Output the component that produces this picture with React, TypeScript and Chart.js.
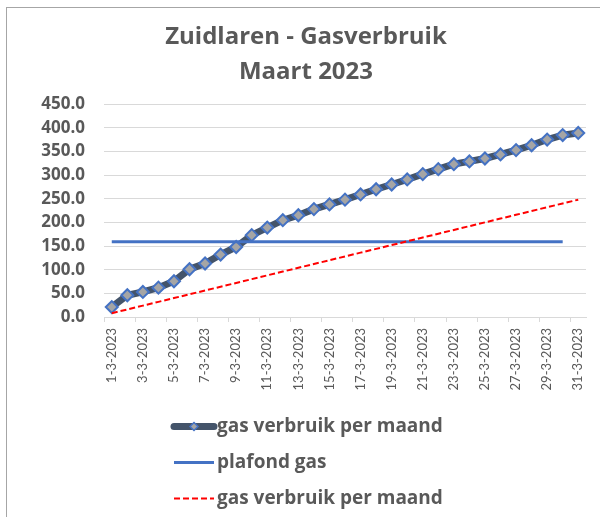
import React, { useEffect, useRef } from "react";
import { Chart, registerables } from "chart.js";

Chart.register(...registerables);

const TITLE_LINES = ["Zuidlaren - Gasverbruik", "Maart 2023"];

const dates = [
  "1-3-2023", "2-3-2023", "3-3-2023", "4-3-2023", "5-3-2023", "6-3-2023", "7-3-2023", "8-3-2023",
  "9-3-2023", "10-3-2023", "11-3-2023", "12-3-2023", "13-3-2023", "14-3-2023", "15-3-2023", "16-3-2023",
  "17-3-2023", "18-3-2023", "19-3-2023", "20-3-2023", "21-3-2023", "22-3-2023", "23-3-2023", "24-3-2023",
  "25-3-2023", "26-3-2023", "27-3-2023", "28-3-2023", "29-3-2023", "30-3-2023", "31-3-2023",
];

const gasVerbruik = [
  21, 46, 53, 62, 75.5, 101, 113, 132, 148, 173, 189, 204.6, 215, 228, 238, 248,
  259, 270, 280, 290.7, 302, 312.5, 323, 328.8, 335, 343.6, 352.7, 363, 375, 384.5, 389,
];

const plafondGas = [
  159, 159, 159, 159, 159, 159, 159, 159, 159, 159, 159, 159, 159, 159, 159, 159,
  159, 159, 159, 159, 159, 159, 159, 159, 159, 159, 159, 159, 159, 159, null,
];

const gasVerbruikLijn = [
  8, 16, 24, 32, 40, 48, 56, 64, 72, 80, 88, 96, 104, 112, 120, 128,
  136, 144, 152, 160, 168, 176, 184, 192, 200, 208, 216, 224, 232, 240, 248,
];

const seriesLabels = ["gas verbruik per maand", "plafond gas", "gas verbruik per maand"];

const Y_MIN = 0;
const Y_MAX = 450;
const Y_STEP = 50;

const GRAY_TEXT = "#595959";
const FONT_BOLD = "'Open Sans'";
const FONT_TICK = "Lato";

const borderPlugin = {
  id: "outerBorder",
  beforeDraw(chart: any) {
    const ctx = chart.ctx;
    ctx.save();
    ctx.fillStyle = "#ffffff";
    ctx.fillRect(0, 0, chart.width, chart.height);
    ctx.strokeStyle = "#A6A6A6";
    ctx.lineWidth = 1;
    ctx.strokeRect(6.5, 7.5, chart.width + 20, chart.height + 20);
    ctx.restore();
  },
};

const legendPlugin = {
  id: "verticalLegend",
  afterDraw(chart: any) {
    const ctx = chart.ctx;
    const baselines = [432, 468, 504];
    const x0 = 174;
    const x1 = 214;
    const tx = 217;
    ctx.save();
    ctx.font = `bold 19px ${FONT_BOLD}`;
    ctx.fillStyle = GRAY_TEXT;
    ctx.textBaseline = "alphabetic";
    chart.data.datasets.forEach((ds: any, i: number) => {
      const yb = baselines[i];
      const y = yb - 5.5;
      ctx.save();
      ctx.strokeStyle = ds.borderColor;
      ctx.lineWidth = ds.borderWidth;
      ctx.setLineDash(ds.borderDash || []);
      ctx.lineCap = i === 0 ? "round" : "butt";
      ctx.beginPath();
      ctx.moveTo(x0, y);
      ctx.lineTo(x1, y);
      ctx.stroke();
      ctx.setLineDash([]);
      if (ds.pointRadius > 0) {
        const cx = (x0 + x1) / 2;
        const r = 4;
        ctx.beginPath();
        ctx.moveTo(cx, y - r);
        ctx.lineTo(cx + r, y);
        ctx.lineTo(cx, y + r);
        ctx.lineTo(cx - r, y);
        ctx.closePath();
        ctx.fillStyle = ds.pointBackgroundColor;
        ctx.fill();
        ctx.strokeStyle = ds.pointBorderColor;
        ctx.lineWidth = 1.5;
        ctx.stroke();
      }
      ctx.restore();
      ctx.fillText(ds.label, tx, yb);
    });
    ctx.restore();
  },
};

export default function App() {
  const canvasRef = useRef<HTMLCanvasElement | null>(null);

  useEffect(() => {
    const canvas = canvasRef.current;
    if (!canvas) return;
    const chart = new Chart(canvas, {
      type: "line",
      data: {
        labels: dates,
        datasets: [
          {
            label: seriesLabels[0],
            data: gasVerbruik,
            borderColor: "#44546A",
            borderWidth: 7,
            pointStyle: "rectRot",
            pointRadius: 6,
            pointBackgroundColor: "#A5A5A5",
            pointBorderColor: "#4472C4",
            pointBorderWidth: 2,
            tension: 0,
            order: 3,
          },
          {
            label: seriesLabels[1],
            data: plafondGas,
            borderColor: "#4472C4",
            borderWidth: 3,
            pointRadius: 0,
            tension: 0,
            order: 2,
          },
          {
            label: seriesLabels[2],
            data: gasVerbruikLijn,
            borderColor: "#FF0000",
            borderWidth: 2,
            borderDash: [6, 3],
            pointRadius: 0,
            tension: 0,
            order: 1,
          },
        ],
      },
      options: {
        responsive: false,
        animation: false,
        layout: { padding: { left: 22, right: 10, top: 0, bottom: 120 } },
        plugins: {
          legend: { display: false },
          tooltip: { enabled: false },
          title: {
            display: true,
            text: TITLE_LINES,
            color: GRAY_TEXT,
            font: { family: FONT_BOLD, size: 24, weight: "bold", lineHeight: 1.46 },
            padding: { top: 20, bottom: 14 },
          },
        },
        scales: {
          x: {
            offset: true,
            grid: {
              display: true,
              drawOnChartArea: false,
              drawTicks: true,
              tickLength: 5,
              offset: true,
              tickColor: (c: any) =>
                c.index !== undefined && c.index % 2 === 0 ? "#D9D9D9" : "rgba(0,0,0,0)",
            },
            border: { display: true, color: "#D9D9D9", width: 1 },
            ticks: {
              autoSkip: false,
              maxRotation: 90,
              minRotation: 90,
              padding: 6,
              color: GRAY_TEXT,
              font: { family: FONT_TICK, size: 13 },
              callback: (_v: any, i: number) => (i % 2 === 0 ? dates[i] : ""),
            },
            afterFit: (scale: any) => {
              scale.height = 80;
            },
          },
          y: {
            min: Y_MIN,
            max: Y_MAX,
            grid: { color: "#D9D9D9", lineWidth: 1, drawTicks: false },
            border: { display: false },
            ticks: {
              stepSize: Y_STEP,
              padding: 19,
              color: GRAY_TEXT,
              font: { family: FONT_BOLD, size: 17, weight: "bold" },
              callback: (v: any) => Number(v).toFixed(1),
            },
            afterFit: (scale: any) => {
              scale.width = 82;
            },
          },
        },
      },
      plugins: [borderPlugin, legendPlugin],
    });
    return () => chart.destroy();
  }, []);

  return (
    <div style={{ position: "fixed", left: 0, top: 0, width: 600, height: 517, background: "#fff" }}>
      <canvas ref={canvasRef} width={600} height={517} style={{ display: "block" }} />
    </div>
  );
}
